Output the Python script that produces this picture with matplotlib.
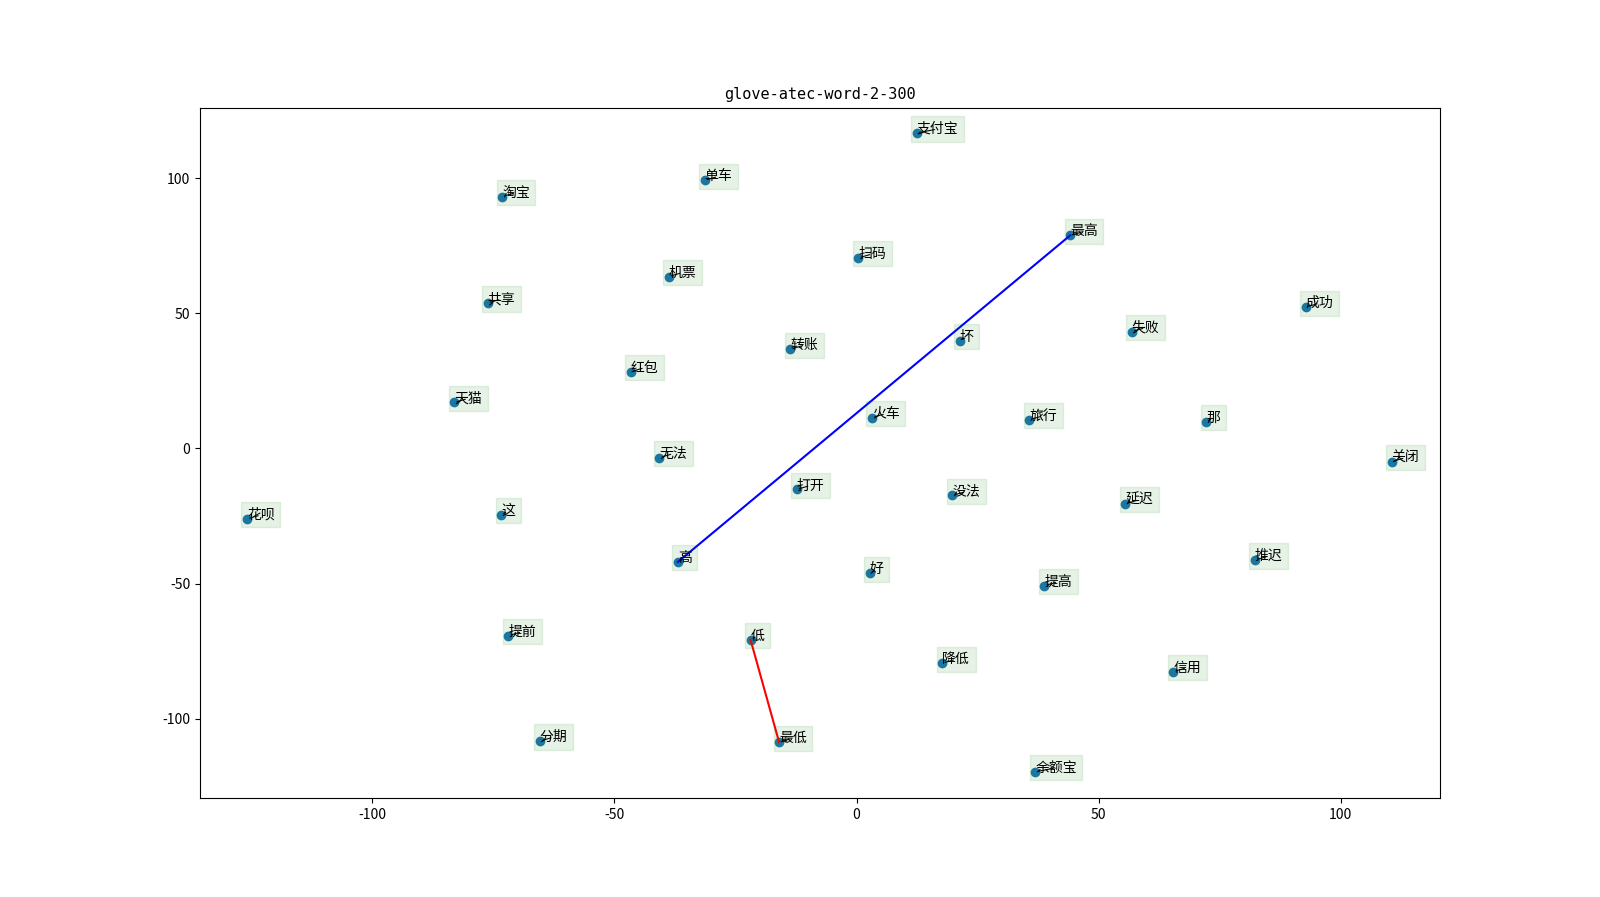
import matplotlib
matplotlib.use('Agg')
import matplotlib.pyplot as plt

plt.rcParams['font.family'] = ['Noto Sans CJK SC', 'DejaVu Sans']
plt.rcParams['axes.unicode_minus'] = False

# word positions (2-D projection of the embeddings)
words = ['支付宝', '单车', '淘宝', '最高', '扫码', '机票', '共享', '成功', '失败', '坏',
         '转账', '红包', '天猫', '火车', '旅行', '那', '无法', '关闭', '打开', '没法',
         '延迟', '花呗', '这', '高', '推迟', '好', '提高', '提前', '低', '降低',
         '信用', '分期', '最低', '余额宝']
xs = [12.4, -31.4, -73.2, 44.1, 0.4, -38.8, -76.2, 92.8, 56.8, 21.3,
      -13.7, -46.6, -83.1, 3.2, 35.7, 72.2, -40.7, 110.5, -12.4, 19.8,
      55.5, -125.9, -73.4, -36.9, 82.3, 2.7, 38.8, -71.9, -21.9, 17.7,
      65.4, -65.4, -16.0, 36.9]
ys = [116.7, 99.2, 93.2, 78.8, 70.5, 63.6, 53.8, 52.3, 43.2, 39.8,
      36.7, 28.4, 17.0, 11.4, 10.6, 9.8, -3.4, -4.9, -15.2, -17.4,
      -20.5, -26.1, -24.6, -42.0, -41.3, -46.2, -50.8, -69.3, -70.8, -79.5,
      -82.6, -108.3, -108.7, -119.7]

# analogy pairs
pairs = [('高', '最高', 'blue'), ('低', '最低', 'red')]

fig = plt.figure(figsize=(16, 8.97), dpi=100)
ax = plt.gca()
plt.scatter(xs, ys)
for w, x, y in zip(words, xs, ys):
    plt.annotate(w, xy=(x, y), xytext=(0, 0), textcoords='offset points',
                 fontsize=10,
                 bbox=dict(boxstyle='square,pad=0.4', fc='green', ec='green', alpha=0.1),
                 arrowprops=dict(arrowstyle='-', color='black', lw=0.8))

for a, b, c in pairs:
    i, j = words.index(a), words.index(b)
    plt.plot([xs[i], xs[j]], [ys[i], ys[j]], color=c)

plt.xlim(-135.6, 120.5)
plt.ylim(-129.5, 126.1)
plt.title('glove-atec-word-2-300', family='DejaVu Sans Mono', fontsize=11)
plt.savefig('out.png')
